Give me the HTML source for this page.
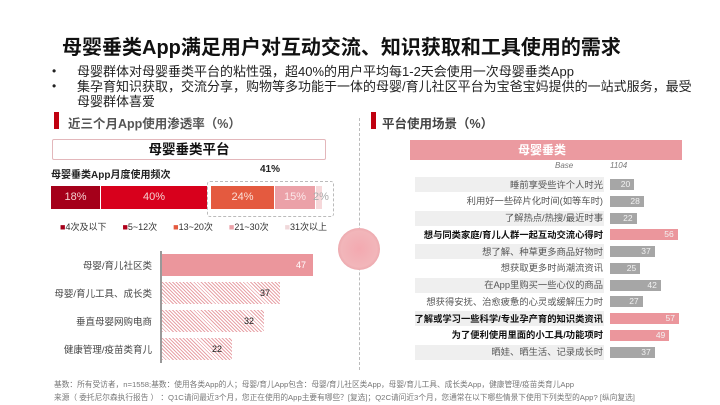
<!DOCTYPE html>
<html><head><meta charset="utf-8"><style>
*{margin:0;padding:0;box-sizing:border-box}
body{width:720px;height:405px;background:#fff;position:relative;overflow:hidden;font-family:"Liberation Sans","Noto Sans CJK SC",sans-serif;color:#333}
.a{position:absolute;white-space:nowrap}
.hatch{background:repeating-linear-gradient(45deg,#e8a3a8 0 1px,#fff 1px 2.5px)}
</style></head><body>
<div class="a" style="left:62px;top:31px;font-size:20px;font-weight:bold;color:#111">母婴垂类App满足用户对互动交流、知识获取和工具使用的需求</div>
<div class="a" style="left:52px;top:64px;font-size:12px;line-height:15px;color:#222">•</div>
<div class="a" style="left:52px;top:79px;font-size:12px;line-height:15px;color:#222">•</div>
<div class="a" style="left:77px;top:64px;font-size:13px;line-height:15px;color:#222">母婴群体对母婴垂类平台的粘性强，超40%的用户平均每1-2天会使用一次母婴垂类App<br>集孕育知识获取，交流分享，购物等多功能于一体的母婴/育儿社区平台为宝爸宝妈提供的一站式服务，最受<br>母婴群体喜爱</div>

<div class="a" style="left:54px;top:112px;width:5px;height:17px;background:#c00010"></div>
<div class="a" style="left:68px;top:113px;font-size:12.5px;font-weight:bold;color:#555">近三个月App使用渗透率（%）</div>
<div class="a" style="left:52px;top:139px;width:274px;height:21px;border:1px solid #e3b7bb;border-radius:2px;text-align:center;font-size:13.5px;font-weight:bold;line-height:19px;color:#111">母婴垂类平台</div>
<div class="a" style="left:51px;top:166px;font-size:10px;font-weight:bold;color:#222">母婴垂类App月度使用频次</div>
<div class="a" style="left:260px;top:164px;font-size:10px;font-weight:bold;color:#222">41%</div>
<div class="a" style="left:207px;top:181px;width:127px;height:36px;border:1px dashed #bbb;border-radius:3px"></div>
<div class="a" style="left:51px;top:186px;height:23px;width:49px;background:#a5001a;color:#f4d0d0;font-size:11px;line-height:23px;text-align:center">18%</div>
<div class="a" style="left:101px;top:186px;height:23px;width:106px;background:#d8001c;color:#f4d0d0;font-size:11px;line-height:23px;text-align:center">40%</div>
<div class="a" style="left:211px;top:186px;height:23px;width:63px;background:#e45a3f;color:#fbe0d8;font-size:11px;line-height:23px;text-align:center">24%</div>
<div class="a" style="left:275px;top:186px;height:23px;width:40px;background:#eba1a8;color:#fbe8ea;font-size:11px;line-height:23px;text-align:center">15%</div>
<div class="a" style="left:316px;top:186px;height:23px;width:6px;background:#f6d8da"></div>
<div class="a" style="left:313px;top:191px;font-size:11px;color:#aaa">2%</div>
<div class="a" style="left:60px;top:220px;font-size:9px;color:#333;word-spacing:0"><span style="color:#a5001a">■</span>4次及以下<span style="display:inline-block;width:16px"></span><span style="color:#b0001a">■</span>5~12次<span style="display:inline-block;width:16px"></span><span style="color:#e45a3f">■</span>13~20次<span style="display:inline-block;width:16px"></span><span style="color:#eba1a8">■</span>21~30次<span style="display:inline-block;width:16px"></span><span style="color:#f0d8da">■</span>31次以上</div>

<div class="a" style="left:160px;top:251px;width:1.5px;height:112px;background:#999"></div>
<div class="a" style="left:162px;top:254px;width:151px;height:22px;background:#eb969c;color:#fff;font-size:9px;line-height:22px;text-align:right;padding-right:7px">47</div>
<div class="a hatch" style="left:162px;top:282px;width:118px;height:22px;font-size:9px;line-height:22px;text-align:right;padding-right:10px;color:#222">37</div>
<div class="a hatch" style="left:162px;top:310px;width:102px;height:22px;font-size:9px;line-height:22px;text-align:right;padding-right:10px;color:#222">32</div>
<div class="a hatch" style="left:162px;top:338px;width:70px;height:22px;font-size:9px;line-height:22px;text-align:right;padding-right:10px;color:#222">22</div>
<div class="a" style="right:568px;top:258px;font-size:9.5px;color:#444">母婴/育儿社区类</div>
<div class="a" style="right:568px;top:286px;font-size:9.5px;color:#444">母婴/育儿工具、成长类</div>
<div class="a" style="right:568px;top:314px;font-size:9.5px;color:#444">垂直母婴网购电商</div>
<div class="a" style="right:568px;top:342px;font-size:9.5px;color:#444">健康管理/疫苗类育儿</div>

<div class="a" style="left:359px;top:118px;height:252px;border-left:1px dashed #bbb"></div>
<div class="a" style="left:338px;top:228px;width:42px;height:42px;border-radius:50%;background:radial-gradient(circle,#f3a9b0 0%,#f2b6ba 60%,#e08a92 100%);"></div>

<div class="a" style="left:371px;top:112px;width:5px;height:17px;background:#c00010"></div>
<div class="a" style="left:382px;top:113px;font-size:12.5px;font-weight:bold;color:#444">平台使用场景（%）</div>
<div class="a" style="left:410px;top:140px;width:272px;height:20px;background:#eb9aa0;color:#fff;font-size:12px;font-weight:bold;line-height:20px;text-align:left;padding-left:108px">母婴垂类</div>
<div class="a" style="left:555px;top:161px;font-size:8px;font-style:italic;color:#777">Base</div>
<div class="a" style="left:610px;top:161px;font-size:8px;font-style:italic;color:#777">1104</div>
<div id="rows"></div>
<script>
var d=[["睡前享受些许个人时光",20,0],["利用好一些碎片化时间(如等车时)",28,0],["了解热点/热搜/最近时事",22,0],["想与同类家庭/育儿人群一起互动交流心得时",56,1],["想了解、种草更多商品好物时",37,0],["想获取更多时尚潮流资讯",25,0],["在App里购买一些心仪的商品",42,0],["想获得安抚、治愈疲惫的心灵或缓解压力时",27,0],["了解或学习一些科学/专业孕产育的知识类资讯",57,1],["为了便利使用里面的小工具/功能项时",49,1],["晒娃、晒生活、记录成长时",37,0]];
var h="";
d.forEach(function(r,i){var y=177+i*16.75;
if(i%2==0)h+='<div class="a" style="left:415px;top:'+y+'px;width:189px;height:15px;background:#efefef"></div>';
h+='<div class="a" style="right:117px;top:'+(y+0.5)+'px;font-size:9.3px;line-height:14px;'+(r[2]?'font-weight:bold;color:#111':'color:#555')+'">'+r[0]+'</div>';
h+='<div class="a" style="left:610px;top:'+(y+2)+'px;width:'+(r[1]*1.21)+'px;height:11px;background:'+(r[2]?'#eb969c':'#a6a6a6')+';color:#f2f2f2;font-size:8.5px;line-height:11px;text-align:right;padding-right:4px">'+r[1]+'</div>';});
document.getElementById("rows").innerHTML=h;
</script>
<div class="a" style="left:54px;top:378px;font-size:7.7px;line-height:13px;color:#777">基数：所有受访者，n=1558;基数：使用各类App的人；母婴/育儿App包含：母婴/育儿社区类App，母婴/育儿工具、成长类App，健康管理/疫苗类育儿App<br>来源（ 委托尼尔森执行报告 ） ：Q1C请问最近3个月，您正在使用的App主要有哪些？[复选]；Q2C请问近3个月，您通常在以下哪些情景下使用下列类型的App? [纵向复选]</div>
</body></html>
